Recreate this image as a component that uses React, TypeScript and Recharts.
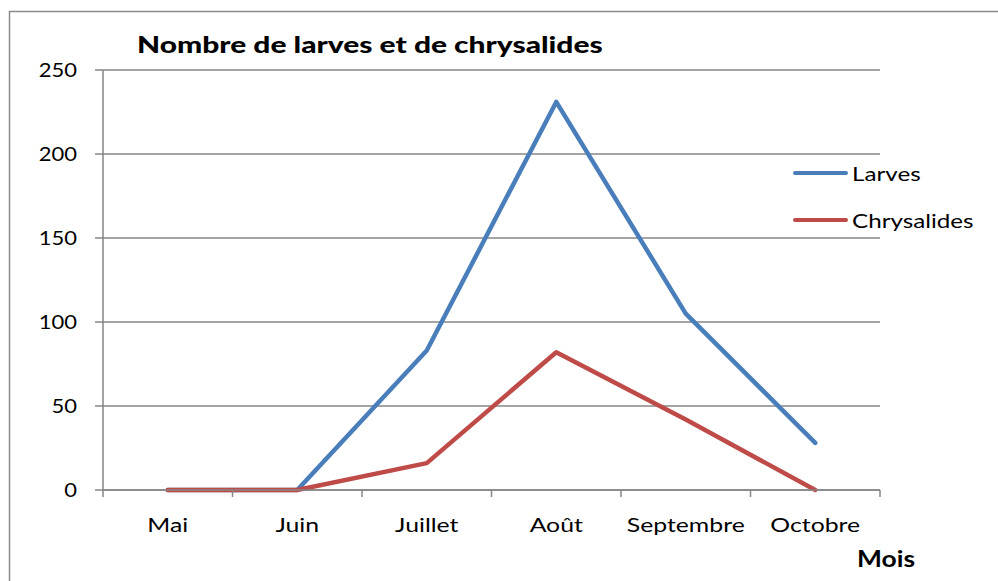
import { LineChart, Line, XAxis, YAxis, CartesianGrid } from "recharts";

const months = ["Mai", "Juin", "Juillet", "Août", "Septembre", "Octobre"];
const larves = [0, 0, 83, 231, 105, 28];
const chrysalides = [0, 0, 16, 82, 42, 0];
const yTicks = [0, 50, 100, 150, 200, 250];

const W = 998;
const H = 581;
const PLOT_LEFT = 103;
const PLOT_RIGHT = 880;
const PLOT_TOP = 70;
const PLOT_BOTTOM = 490;
const BAND = (PLOT_RIGHT - PLOT_LEFT) / months.length;

const FONT = "Lato, 'Open Sans', sans-serif";
const AXIS_COLOR = "#868686";
const BLUE = "#4a7ebb";
const RED = "#be4b48";

const data = months.map((m, i) => ({
    mois: m,
    larves: larves[i],
    chrysalides: chrysalides[i],
}));

// Excel puts the tick marks between categories, labels are centred in the band
const MonthTick = ({ x, y, payload, index }: any) => {
    const left = x - BAND / 2;
    return (
        <g>
            <line x1={left} y1={PLOT_BOTTOM} x2={left} y2={PLOT_BOTTOM + 7} stroke={AXIS_COLOR} strokeWidth={1.5} />
            {index === months.length - 1 && (
                <line x1={x + BAND / 2} y1={PLOT_BOTTOM} x2={x + BAND / 2} y2={PLOT_BOTTOM + 7} stroke={AXIS_COLOR} strokeWidth={1.5} />
            )}
            <text
                transform={`translate(${x},${PLOT_BOTTOM + 42}) scale(1.24,1)`}
                textAnchor="middle"
                fontFamily={FONT}
                fontSize={20}
                fill="#000"
            >
                {payload.value}
            </text>
        </g>
    );
};

const ValueTick = ({ x, y, payload }: any) => (
    <text
        transform={`translate(${x},${y + 7}) scale(1.1,1)`}
        textAnchor="end"
        fontFamily={FONT}
        fontSize={20}
        fill="#000"
    >
        {payload.value}
    </text>
);

const legendItems = [
    { name: "Larves", color: BLUE, top: 173 },
    { name: "Chrysalides", color: RED, top: 220 },
];

const stretched = (sx: number): React.CSSProperties => ({
    transform: `scaleX(${sx})`,
    transformOrigin: "left center",
    whiteSpace: "nowrap",
});

export default function App() {
    return (
        <div style={{ position: "absolute", left: 0, top: 0, width: W, height: H, overflow: "hidden", background: "#fff" }}>
            <svg width={W} height={H} style={{ position: "absolute", left: 0, top: 0 }}>
                <rect x={9.5} y={11.5} width={1100} height={700} fill="none" stroke="#8c8c8c" strokeWidth={1.5} />
            </svg>
            <div style={{ position: "absolute", left: 0, top: 0 }}>
                <LineChart
                    width={W}
                    height={H}
                    data={data}
                    margin={{ top: PLOT_TOP, right: W - PLOT_RIGHT, bottom: 51, left: 0 }}
                >
                    <CartesianGrid vertical={false} stroke={AXIS_COLOR} strokeWidth={1.5} />
                    <XAxis
                        dataKey="mois"
                        scale="band"
                        height={H - PLOT_BOTTOM - 51}
                        axisLine={{ stroke: AXIS_COLOR, strokeWidth: 1.5 }}
                        tickLine={false}
                        tick={<MonthTick />}
                        interval={0}
                    />
                    <YAxis
                        width={PLOT_LEFT}
                        domain={[0, 250]}
                        ticks={yTicks}
                        axisLine={{ stroke: AXIS_COLOR, strokeWidth: 1.5 }}
                        tickLine={{ stroke: AXIS_COLOR, strokeWidth: 1.5 }}
                        tickSize={8}
                        tickMargin={18}
                        tick={<ValueTick />}
                    />
                    <Line
                        type="linear"
                        dataKey="larves"
                        stroke={BLUE}
                        strokeWidth={4.5}
                        strokeLinecap="round"
                        strokeLinejoin="round"
                        dot={false}
                        isAnimationActive={false}
                    />
                    <Line
                        type="linear"
                        dataKey="chrysalides"
                        stroke={RED}
                        strokeWidth={4.5}
                        strokeLinecap="round"
                        strokeLinejoin="round"
                        dot={false}
                        isAnimationActive={false}
                    />
                </LineChart>
            </div>
            <div
                style={{
                    position: "absolute",
                    left: 137,
                    top: 30,
                    fontFamily: FONT,
                    fontWeight: 900,
                    fontSize: 22,
                    lineHeight: "30px",
                    color: "#000",
                    ...stretched(1.36),
                }}
            >
                Nombre de larves et de chrysalides
            </div>
            {legendItems.map((item) => (
                <div key={item.name} style={{ position: "absolute", left: 793, top: item.top - 13, height: 26, display: "flex", alignItems: "center" }}>
                    <div style={{ width: 55, height: 4.5, borderRadius: 3, background: item.color }} />
                    <span style={{ marginLeft: 4, fontFamily: FONT, fontSize: 20, color: "#000", display: "inline-block", ...stretched(1.21) }}>
                        {item.name}
                    </span>
                </div>
            ))}
            <div
                style={{
                    position: "absolute",
                    left: 857,
                    top: 545,
                    fontFamily: FONT,
                    fontWeight: "bold",
                    fontSize: 22,
                    color: "#000",
                    ...stretched(1.2),
                }}
            >
                Mois
            </div>
        </div>
    );
}
